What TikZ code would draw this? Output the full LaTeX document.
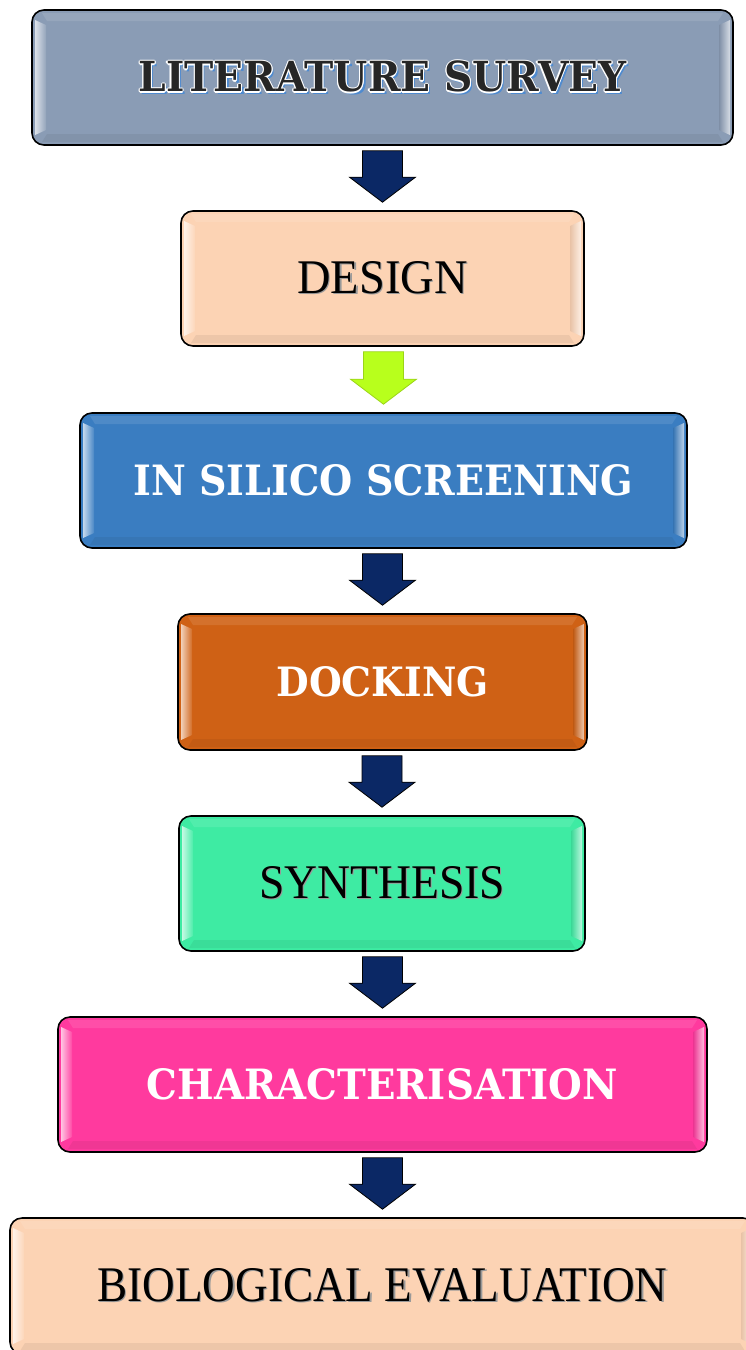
\documentclass[tikz,border=0pt]{standalone}
\usepackage{fontspec}
\usepackage{graphicx}
\setmainfont{Liberation Serif}
\newfontfamily\bfs{DejaVu Serif}
\usetikzlibrary{calc}
\definecolor{cone}{HTML}{8A9CB5}
\definecolor{ctwo}{HTML}{FCD3B4}
\definecolor{cthree}{HTML}{3A7DC1}
\definecolor{cfour}{HTML}{CF6115}
\definecolor{cfive}{HTML}{3EEBA3}
\definecolor{csix}{HTML}{FF3A9E}
\definecolor{navy}{HTML}{0B2865}
\definecolor{limeA}{HTML}{B8FF1C}
\definecolor{limeB}{HTML}{9BD418}
\definecolor{shblue}{HTML}{4F8BD0}
\definecolor{txtdark}{HTML}{262626}

\newcommand\plaintxt[3]{\resizebox{#1pt}{#2pt}{\fontsize{44}{44}\selectfont\rlap{\kern1.3pt\raisebox{-1.3pt}{\textcolor{black!40}{#3}}}\textcolor{black}{#3}}}
\newcommand\boldtxt[3]{\resizebox{#1pt}{#2pt}{\bfs\bfseries\fontsize{44}{44}\selectfont\textcolor{white}{#3}}}
\newcommand\outltxt[3]{\resizebox{#1pt}{#2pt}{\bfs\bfseries\fontsize{44}{44}\selectfont
\rlap{\kern2.6pt\raisebox{-2.6pt}{\textcolor{shblue}{#3}}}%
\rlap{\kern1.3pt\textcolor{white}{#3}}%
\rlap{\kern-1.3pt\textcolor{white}{#3}}%
\rlap{\raisebox{1.3pt}{\textcolor{white}{#3}}}%
\rlap{\raisebox{-1.3pt}{\textcolor{white}{#3}}}%
\rlap{\kern1pt\raisebox{1pt}{\textcolor{white}{#3}}}%
\rlap{\kern-1pt\raisebox{-1pt}{\textcolor{white}{#3}}}%
\rlap{\kern1pt\raisebox{-1pt}{\textcolor{white}{#3}}}%
\rlap{\kern-1pt\raisebox{1pt}{\textcolor{white}{#3}}}%
\textcolor{txtdark}{#3}}}

\tikzset{
  stage/.style={draw=black,line width=1.6pt,rounded corners=12pt,inner sep=0pt},
  darrow/.style={fill=navy,draw=black,line width=0.8pt,line join=miter},
  garrow/.style={fill=limeA,draw=limeB,line width=0.8pt,line join=miter},
}

% name x1 y1 x2 y2 colour text
\newcommand\stagebox[7]{%
  \node[stage,fill=#6,minimum width={#4-#2},minimum height={#5-#3}] (#1) at ({(#2+#4)/2},{(#3+#5)/2}) {#7};
  \fill[#6!90!white] ({#2+10},{#3+3}) -- ({#4-10},{#3+3}) -- ({#4-15},{#3+11}) -- ({#2+15},{#3+11}) -- cycle;
  \fill[#6!94!black] ({#2+10},{#5-3}) -- ({#4-10},{#5-3}) -- ({#4-15},{#5-11}) -- ({#2+15},{#5-11}) -- cycle;
  \shade[left color=#6!30!white,right color=#6!92!white] ({#2+3},{#3+10}) -- ({#2+14},{#3+15}) -- ({#2+14},{#5-15}) -- ({#2+3},{#5-10}) -- cycle;
  \shade[left color=#6!92!black,right color=#6!35!white] ({#4-3},{#3+10}) -- ({#4-14},{#3+15}) -- ({#4-14},{#5-15}) -- ({#4-3},{#5-10}) -- cycle;
}
\newcommand\flow[3]{%
  \draw[#3] let \p1=(#1.south), \p2=(#2.north) in
    (\x2-20pt,\y1-5pt) -- (\x2+20pt,\y1-5pt) -- (\x2+20pt,\y2+33pt) -- (\x2+33pt,\y2+33pt)
    -- (\x2,\y2+8pt) -- (\x2-33pt,\y2+33pt) -- (\x2-20pt,\y2+33pt) -- cycle;}

\begin{document}
\begin{tikzpicture}[x=1pt,y=-1pt]
\useasboundingbox (0,0) rectangle (745,1350);
\fill[white] (0,0) rectangle (745,1350);
\stagebox{lit}{32}{10}{733}{145}{cone}{\outltxt{488}{32}{LITERATURE SURVEY}}
\stagebox{des}{181}{211}{584}{346}{ctwo}{\plaintxt{170}{32}{DESIGN}}
\stagebox{sil}{80}{413}{687}{548}{cthree}{\boldtxt{500}{31}{IN SILICO SCREENING}}
\stagebox{doc}{178}{614}{587}{750}{cfour}{\boldtxt{212}{30}{DOCKING}}
\stagebox{syn}{179}{816}{585}{951}{cfive}{\plaintxt{246}{32}{SYNTHESIS}}
\stagebox{cha}{58}{1017}{707}{1152}{csix}{\boldtxt{471}{31}{CHARACTERISATION}}
\stagebox{bio}{10}{1218}{755}{1354}{ctwo}{\plaintxt{570}{33}{BIOLOGICAL EVALUATION}}
\flow{lit}{des}{darrow}
\flow{des}{sil}{garrow}
\flow{sil}{doc}{darrow}
\flow{doc}{syn}{darrow}
\flow{syn}{cha}{darrow}
\flow{cha}{bio}{darrow}
\end{tikzpicture}
\end{document}
